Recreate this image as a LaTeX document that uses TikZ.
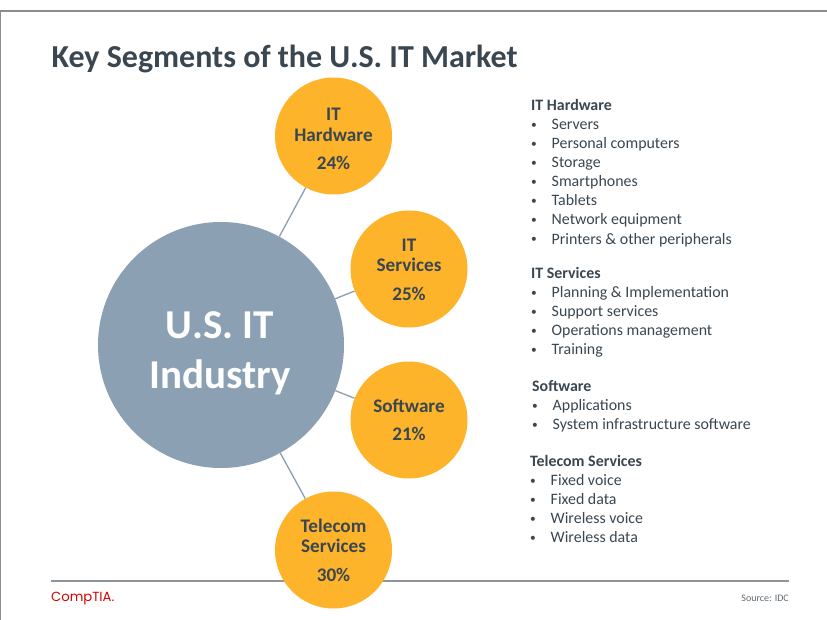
\documentclass[tikz,border=0pt]{standalone}
\usepackage{fontspec}
\setmainfont{Carlito}
\newfontfamily\logofont{Poppins}
\definecolor{bub}{HTML}{FDB42B}
\definecolor{hub}{HTML}{8BA1B3}
\definecolor{ink}{HTML}{3A4650}
\definecolor{linec}{HTML}{8A9FB2}
\definecolor{frame}{HTML}{8C8C8C}
\definecolor{rulec}{HTML}{8E939B}
\tikzset{
 px/.style={x=1pt,y=-1pt},
 bubble/.style={circle,fill=bub,minimum size=#1,inner sep=0pt},
 blabel/.style={text=ink,align=center,inner sep=0pt,font=\fontsize{19.2}{20.5}\selectfont\bfseries},
 conn/.style={draw=linec,line width=1.3pt},
 listblock/.style={anchor=north west,align=left,text=ink,inner sep=0pt,font=\fontsize{15.9}{19.1}\selectfont},
}
\newcommand{\blt}{\makebox[20.5pt][l]{\raisebox{1.2pt}{\scalebox{0.72}{•}}}}
\newcommand{\itm}[1]{\blt#1\\}
\begin{document}
\begin{tikzpicture}[px]
\useasboundingbox (0,0) rectangle (827,620);
\fill[white] (0,0) rectangle (827,620);
\coordinate (fa) at (0,620); \coordinate (fb) at (0,11); \coordinate (fc) at (827,11);
\draw[frame,line width=1.6pt] (fa) -- (fb) -- (fc);
\coordinate (ra) at (51,581); \coordinate (rb) at (789,581);
\draw[rulec,line width=1.4pt] (ra) -- (rb);
\node[anchor=west,inner sep=0pt,text=ink,font=\fontsize{32}{36}\selectfont\bfseries] (title) at (51.5,58.5) {Key Segments of the U.S. IT Market};
\node[circle,fill=hub,minimum size=246pt,inner sep=0pt] (hub) at (221,345) {};
\node[text=white,align=center,inner sep=0pt,font=\fontsize{41}{50}\selectfont\bfseries] (hubt) at (220,353) {U.S. IT\\Industry};
\node[bubble=117pt] (hw) at (333.5,136) {};
\node[bubble=117pt] (sv) at (409,269) {};
\node[bubble=117pt] (sw) at (409,420) {};
\node[bubble=117pt] (tc) at (333.5,550) {};
\node[blabel] (hwa) at (333.5,125) {IT\\Hardware};
\node[blabel] (hwb) at (333.5,163) {24\%};
\node[blabel] (sva) at (409,255.5) {IT\\Services};
\node[blabel] (svb) at (409,294) {25\%};
\node[blabel] (swa) at (409,406) {Software};
\node[blabel] (swb) at (409,434) {21\%};
\node[blabel] (tca) at (333.5,536) {Telecom\\Services};
\node[blabel] (tcb) at (333.5,575) {30\%};
\draw[conn] (hub) -- (hw);
\draw[conn] (hub) -- (sv);
\draw[conn] (hub) -- (sw);
\draw[conn] (hub) -- (tc);
\node[listblock] (l1) at (531,99) {\textbf{IT Hardware}\\\itm{Servers}\itm{Personal computers}\itm{Storage}\itm{Smartphones}\itm{Tablets}\itm{Network equipment}\blt Printers \& other peripherals};
\node[listblock] (l2) at (531,267) {\textbf{IT Services}\\\itm{Planning \& Implementation}\itm{Support services}\itm{Operations management}\blt Training};
\node[listblock] (l3) at (532,380) {\textbf{Software}\\\itm{Applications}\blt System infrastructure software};
\node[listblock] (l4) at (530,455) {\textbf{Telecom Services}\\\itm{Fixed voice}\itm{Fixed data}\itm{Wireless voice}\blt Wireless data};
\node[anchor=west,inner sep=0pt,text=red!85!black,font=\fontsize{13.2}{14}\logofont] (logo) at (51,599) {CompTIA.};
\node[anchor=east,inner sep=0pt,text=ink!80,font=\fontsize{10}{12}\selectfont] (src) at (789,598) {Source: IDC};
\end{tikzpicture}
\end{document}
